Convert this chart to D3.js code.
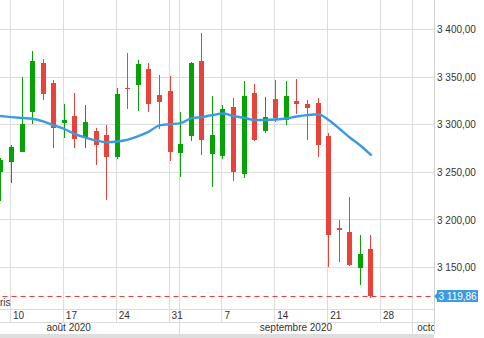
<!DOCTYPE html>
<html><head><meta charset="utf-8">
<script src="https://cdn.jsdelivr.net/npm/d3@7"></script>
<style>
html,body{margin:0;padding:0;background:#fff;overflow:hidden}
svg{display:block;font-family:"Liberation Sans",Arial,sans-serif}
</style></head><body>
<svg id="chart" width="484" height="338"></svg>
<script>
// ---- data ----
const dates = ["2020-08-07",
  "2020-08-10","2020-08-11","2020-08-12","2020-08-13","2020-08-14",
  "2020-08-17","2020-08-18","2020-08-19","2020-08-20","2020-08-21",
  "2020-08-24","2020-08-25","2020-08-26","2020-08-27","2020-08-28",
  "2020-08-31","2020-09-01","2020-09-02","2020-09-03","2020-09-04",
  "2020-09-07","2020-09-08","2020-09-09","2020-09-10","2020-09-11",
  "2020-09-14","2020-09-15","2020-09-16","2020-09-17","2020-09-18",
  "2020-09-21","2020-09-22","2020-09-23","2020-09-24","2020-09-25"];
const opens  = [3250.7, 3261.2,3271.6,3313.6,3364.7,3343.7, 3302.1,3309.4,3286.7,3293.4,3289.5,
  3266.4,3338.8,3341.9,3358.4,3331.1, 3335.3,3270.6,3288.4,3366.8,3269.5,
  3267.4,3318.8,3248.6,3333.2,3293.7, 3326.9,3305.2,3324.8,3321.7,3322.7,
  3288.1,3191.6,3187.4,3149.0,3169.6];
const highs  = [3265.0, 3278.7,3350.0,3377.2,3368.9,3346.8, 3321.7,3333.2,3320.6,3296.8,3300.0,
  3338.8,3375.1,3367.8,3364.7,3352.1, 3351.0,3313.3,3365.7,3396.1,3330.4,
  3320.6,3328.3,3346.1,3342.6,3329.0, 3346.8,3345.8,3347.9,3325.9,3328.0,
  3291.6,3200.0,3224.5,3184.6,3184.6];
const lows   = [3220.3, 3239.1,3271.0,3301.0,3326.2,3275.8, 3286.3,3275.8,3275.8,3258.0,3221.3,
  3264.3,3316.7,3314.6,3313.6,3295.8, 3262.2,3245.4,3283.2,3268.5,3234.9,
  3264.3,3241.2,3244.4,3283.2,3291.6, 3303.1,3300.0,3311.5,3284.2,3266.4,
  3151.0,3156.3,3152.0,3131.1,3117.5];
const closes = [3262.6, 3276.6,3300.7,3366.8,3332.5,3296.8, 3304.9,3285.3,3302.8,3279.0,3266.4,
  3332.5,3337.7,3363.6,3322.0,3324.1, 3271.6,3279.7,3364.7,3284.2,3289.5,
  3316.7,3250.7,3330.4,3284.2,3308.0, 3307.0,3330.1,3321.7,3317.5,3279.0,
  3184.6,3189.8,3153.1,3164.7,3119.86];
const maValues = [3309.1, 3308.0,3307.0,3306.2,3303.5,3299.4, 3295.5,3290.2,3286.5,3283.4,3281.5,
  3282.3,3284.4,3288.1,3292.8,3299.3, 3300.5,3301.7,3306.7,3308.0,3310.1,
  3311.7,3309.1,3307.3,3304.9,3304.9, 3305.4,3306.5,3308.6,3310.1,3310.9,
  3304.9,3296.0,3286.5,3278.1,3268.2];
const lastPrice = 3119.86;
const yTicks = [3150, 3200, 3250, 3300, 3350, 3400];
const weekTickDates = ["2020-08-10","2020-08-17","2020-08-24","2020-08-31","2020-09-07","2020-09-14","2020-09-21","2020-09-28"];
const weekTickLabels = ["10","17","24","31","7","14","21","28"];
const monthStarts = ["2020-08-01","2020-09-01","2020-10-01"];
const monthLabels = ["août 2020","septembre 2020","octobre 2020"];
const marketLabel = "Paris";

// ---- layout ----
const W = 484, H = 338;
const plotR = 434, plotB = 309, tickRowB = 322, monthRowB = 334;
const GREEN = "#05a305", RED = "#e8433a", BLUE = "#3b9ae1", GRID = "#dcdcdc", TXT = "#333";

const parse = d3.timeParse("%Y-%m-%d");
const key = d3.timeFormat("%Y-%m-%d");
const calendar = d3.timeDays(parse("2020-07-27"), parse("2020-12-01")).filter(d => d.getDay() !== 0 && d.getDay() !== 6);
const calKeys = calendar.map(key);
const baseIdx = calKeys.indexOf("2020-08-10");
function tIndex(s) { // trading-day index of first trading day on/after s
  const d = parse(s);
  const i = calendar.findIndex(c => c >= d);
  return i - baseIdx;
}

const x = d3.scaleLinear().domain([0, 35]).range([10.5, 380.5]);
const y = d3.scaleLinear().domain([3150, 3400]).range([267.5, 29.5]);
const crisp = v => Math.round(v - 0.5) + 0.5;

const data = dates.map((d, i) => ({i: tIndex(d), o: opens[i], h: highs[i], l: lows[i], c: closes[i], ma: maValues[i]}));

const svg = d3.select("#chart");
svg.append("rect").attr("width", W).attr("height", H).attr("fill", "#fff");

const defs = svg.append("defs");
defs.append("clipPath").attr("id", "plotClip").append("rect").attr("x", 0).attr("y", 0).attr("width", plotR).attr("height", plotB);
defs.append("clipPath").attr("id", "botClip").append("rect").attr("x", 0).attr("y", plotB).attr("width", plotR).attr("height", monthRowB - plotB);

// grid
const grid = svg.append("g").attr("stroke", GRID).attr("stroke-width", 1).attr("shape-rendering", "crispEdges");
grid.selectAll(".hg").data(yTicks).join("line")
  .attr("x1", 0).attr("x2", plotR).attr("y1", d => crisp(y(d))).attr("y2", d => crisp(y(d)));
const weekIdx = weekTickDates.map(tIndex);
grid.selectAll(".vg").data(weekIdx).join("line")
  .attr("x1", d => crisp(x(d))).attr("x2", d => crisp(x(d))).attr("y1", 0).attr("y2", tickRowB);
const monthIdx = monthStarts.map(tIndex);
grid.selectAll(".mg").data(monthIdx.filter(i => x(i) >= 0 && x(i) < plotR)).join("line")
  .attr("x1", d => crisp(x(d))).attr("x2", d => crisp(x(d))).attr("y1", 0).attr("y2", monthRowB);
grid.append("line").attr("x1", 0).attr("x2", plotR).attr("y1", plotB + 0.5).attr("y2", plotB + 0.5);
grid.append("line").attr("x1", 0).attr("x2", plotR).attr("y1", tickRowB + 0.5).attr("y2", tickRowB + 0.5);
grid.append("line").attr("x1", plotR + 0.5).attr("x2", plotR + 0.5).attr("y1", 0).attr("y2", monthRowB).attr("stroke", "#d0d0d0");
svg.append("rect").attr("x", 0).attr("y", monthRowB).attr("width", plotR).attr("height", H - monthRowB).attr("fill", "#dedede");

// plot
const plot = svg.append("g").attr("clip-path", "url(#plotClip)");

// last price dashed line
plot.append("line").attr("x1", 0).attr("x2", plotR)
  .attr("y1", crisp(y(lastPrice))).attr("y2", crisp(y(lastPrice)))
  .attr("stroke", RED).attr("stroke-width", 1).attr("stroke-dasharray", "5,4").attr("stroke-dashoffset", -2.5);

// candles
const candles = plot.append("g").attr("shape-rendering", "crispEdges");
const cg = candles.selectAll("g").data(data).join("g");
const bodyX = d => Math.round(x(d.i) + 1 - 2.5);
cg.append("rect")
  .attr("x", d => bodyX(d) + 2).attr("width", 1)
  .attr("y", d => y(d.h)).attr("height", d => y(d.l) - y(d.h))
  .attr("fill", d => d.c >= d.o ? GREEN : RED);
cg.append("rect")
  .attr("x", d => bodyX(d)).attr("width", 5)
  .attr("y", d => y(Math.max(d.o, d.c)))
  .attr("height", d => Math.max(1, Math.abs(y(d.o) - y(d.c))))
  .attr("fill", d => d.c >= d.o ? GREEN : RED);

// moving average
plot.append("path").datum(data)
  .attr("fill", "none").attr("stroke", BLUE).attr("stroke-width", 2.4)
  .attr("stroke-linejoin", "round").attr("stroke-linecap", "round")
  .attr("d", d3.line().x(d => x(d.i) + 1).y(d => y(d.ma)).curve(d3.curveMonotoneX));

// market label
svg.append("text").attr("x", 10.5).attr("y", 306).attr("text-anchor", "end")
  .attr("font-size", 10).attr("fill", TXT).text(marketLabel);

// x axis (day ticks) — inside a clipped wrapper
const bottom = svg.append("g").attr("clip-path", "url(#botClip)");
const xAxis = d3.axisBottom(x).tickValues(weekIdx).tickFormat((d, i) => weekTickLabels[i]).tickSize(0).tickPadding(0);
const gx = bottom.append("g").attr("transform", `translate(0,${plotB})`).call(xAxis);
gx.select(".domain").remove();
gx.attr("font-family", null).attr("font-size", null);
gx.selectAll("text").attr("text-anchor", "start").attr("x", 2).attr("y", 9.6).attr("dy", 0)
  .attr("font-size", 10).attr("fill", TXT);

// month labels
monthStarts.forEach((m, k) => {
  const start = x(tIndex(m));
  const nextM = key(d3.timeMonth.offset(parse(m), 1));
  const end = x(tIndex(nextM));
  const t = bottom.append("text").attr("y", 331).attr("font-size", 10).attr("fill", TXT)
    .attr("text-anchor", "middle").text(monthLabels[k]);
  const w = t.node().getComputedTextLength();
  let cx = (start + end) / 2;
  const minC = Math.max(start, 0) + 5 + w / 2;
  if (cx + w / 2 > plotR && cx > minC) cx = minC;
  t.attr("x", cx);
});

// y axis
const fr = d3.formatLocale({decimal: ",", thousands: "\u00a0", grouping: [3], currency: ["", ""]});
const fmt = fr.format(",.2f");
const yAxis = d3.axisRight(y).tickValues(yTicks).tickFormat(fmt).tickSize(0).tickPadding(3);
const gy = svg.append("g").attr("transform", `translate(${plotR},0)`).call(yAxis);
gy.select(".domain").remove();
gy.attr("font-family", null).attr("font-size", null);
gy.selectAll("text").attr("font-size", 10).attr("fill", TXT);

// last price label
const yl = y(lastPrice);
const lab = svg.append("g");
lab.append("path").attr("d", `M${plotR},${yl} L${plotR + 3.5},${yl - 3.5} L${plotR + 3.5},${yl + 3.5} Z`).attr("fill", BLUE);
lab.append("rect").attr("x", 437).attr("y", Math.round(yl - 6)).attr("width", 41).attr("height", 12).attr("fill", BLUE);
lab.append("text").attr("x", 438.5).attr("y", yl).attr("dy", "0.36em").attr("font-size", 10).attr("fill", "#fff")
  .text(fmt(lastPrice));
</script>
</body></html>
